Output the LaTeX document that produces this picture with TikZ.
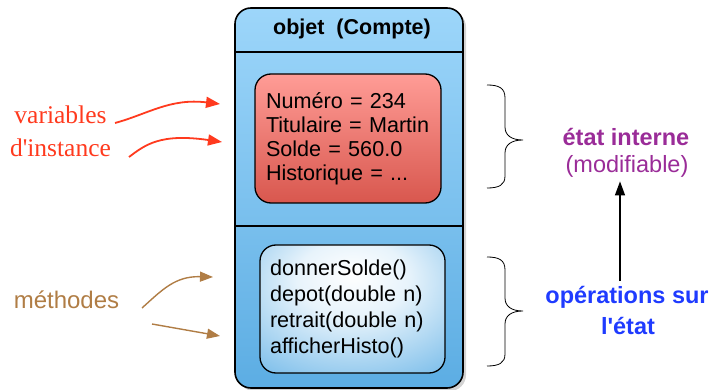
\documentclass[tikz,border=0pt]{standalone}
\usepackage{fontspec}
\setmainfont{Liberation Sans}
\newfontfamily\arialf{Liberation Sans}
\newfontfamily\timesf{Liberation Serif}
\usetikzlibrary{arrows.meta,shadows}
\definecolor{boxtop}{HTML}{9DD6FA}
\definecolor{boxbot}{HTML}{5CADE3}
\definecolor{redtop}{HTML}{FF9C96}
\definecolor{redbot}{HTML}{D8574E}
\definecolor{methout}{HTML}{62B1E6}
\definecolor{varred}{HTML}{FF3A1E}
\definecolor{brownc}{HTML}{B07D45}
\definecolor{purp}{HTML}{9A2C98}
\definecolor{bluec}{HTML}{1F3BFF}
\pgfdeclareradialshading{methshade}{\pgfpoint{0bp}{14bp}}{color(0bp)=(white); color(15bp)=(white!85!methout); color(48bp)=(methout); color(100bp)=(methout)}
\tikzset{
  outerbox/.style={draw=black, line width=1.6pt, rounded corners=16pt, top color=boxtop, bottom color=boxbot,
    drop shadow={shadow xshift=3pt, shadow yshift=-3pt, opacity=0.35}},
  varbox/.style={draw=black, line width=1.3pt, rounded corners=16pt, top color=redtop, bottom color=redbot,
    align=left, font=\fontsize{21.6}{24}\selectfont, inner xsep=11pt},
  methbox/.style={draw=black, line width=1.3pt, rounded corners=16pt, shading=methshade,
    align=left, font=\fontsize{21.6}{26}\selectfont, inner xsep=10pt},
  redarrow/.style={draw=varred, line width=1.8pt, -{Triangle[length=14pt,width=11pt]}},
  brownarrow/.style={draw=brownc, line width=1.4pt, -{Triangle[length=13pt,width=10pt]}},
  bracepath/.style={draw=black, line width=0.8pt},
  divline/.style={draw=black, line width=1.5pt},
}
\begin{document}
\begin{tikzpicture}[x=1pt,y=-1pt]
\useasboundingbox (0,0) rectangle (715,390);
% outer object box
\node[outerbox, minimum width=228pt, minimum height=380pt, inner sep=0pt] (obj) at (349,198) {};
\coordinate (h1) at (235,52);
\coordinate (h2) at (463,52);
\coordinate (d1) at (235,226);
\coordinate (d2) at (463,226);
\draw[divline] (h1) -- (h2);
\draw[divline] (d1) -- (d2);
\node[font=\bfseries\fontsize{21.5}{24}\selectfont, anchor=base] (title) at (352,35) {objet\ \ (Compte)};
% variables box
\node[varbox, text width=164pt, minimum height=129pt] (vars) at (348,138.5)
  {Numéro = 234\\Titulaire = Martin\\Solde = 560.0\\Historique = ...};
% methods box
\node[methbox, text width=165pt, minimum height=128pt] (meth) at (352.5,309)
  {donnerSolde()\\depot(double n)\\retrait(double n)\\afficherHisto()};
% left labels
\node[text=varred, font=\timesf\fontsize{25.5}{28}\selectfont, anchor=base] (lv1) at (60.5,124) {variables};
\node[text=varred, font=\timesf\fontsize{25.5}{28}\selectfont, anchor=base] (lv2) at (60.5,157) {d'instance};
\node[text=brownc, font=\fontsize{24}{28}\selectfont, anchor=base] (lm) at (66.5,308) {méthodes};
\coordinate (ra1s) at (115,123);
\coordinate (ra1e) at (220,104);
\coordinate (ra2s) at (129,157);
\coordinate (ra2e) at (222,142);
\draw[redarrow] (ra1s) .. controls (148,114) and (170,98) .. (ra1e);
\draw[redarrow] (ra2s) .. controls (145,145) and (160,133) .. (ra2e);
\coordinate (ba1s) at (142,308);
\coordinate (ba1e) at (213,277);
\coordinate (ba2s) at (152,324);
\coordinate (ba2e) at (220,336);
\draw[brownarrow] (ba1s) .. controls (162,290) and (175,276) .. (ba1e);
\draw[brownarrow] (ba2s) -- (ba2e);
% braces
\draw[bracepath] (487,85) .. controls (499,85) and (505,88) .. (505,98) -- (505,127)
  .. controls (505,135) and (511,140) .. (523,140)
  .. controls (511,140) and (505,145) .. (505,153) -- (505,176)
  .. controls (505,185) and (499,188) .. (487,188);
\draw[bracepath] (487,257) .. controls (499,257) and (505,260) .. (505,270) -- (505,298)
  .. controls (505,306) and (511,311) .. (523,311)
  .. controls (511,311) and (505,316) .. (505,324) -- (505,354)
  .. controls (505,363) and (499,366) .. (487,366);
% right labels
\node[text=purp, font=\bfseries\fontsize{23.5}{26}\selectfont, anchor=base] (etat) at (626,146) {état interne};
\node[text=purp, font=\fontsize{23.5}{26}\selectfont, anchor=base] (modif) at (627,173) {(modifiable)};
\node[text=bluec, font=\bfseries\fontsize{23.5}{26}\selectfont, anchor=base] (ops) at (627,303) {opérations sur};
\node[text=bluec, font=\arialf\bfseries\fontsize{23.5}{26}\selectfont, anchor=base] (ops2) at (628,334) {l'état};
\coordinate (upS) at (620,281);
\draw[line width=1.4pt, -{Triangle[length=14pt,width=10pt]}] (upS) -- (modif.south -| upS);
\end{tikzpicture}
\end{document}
